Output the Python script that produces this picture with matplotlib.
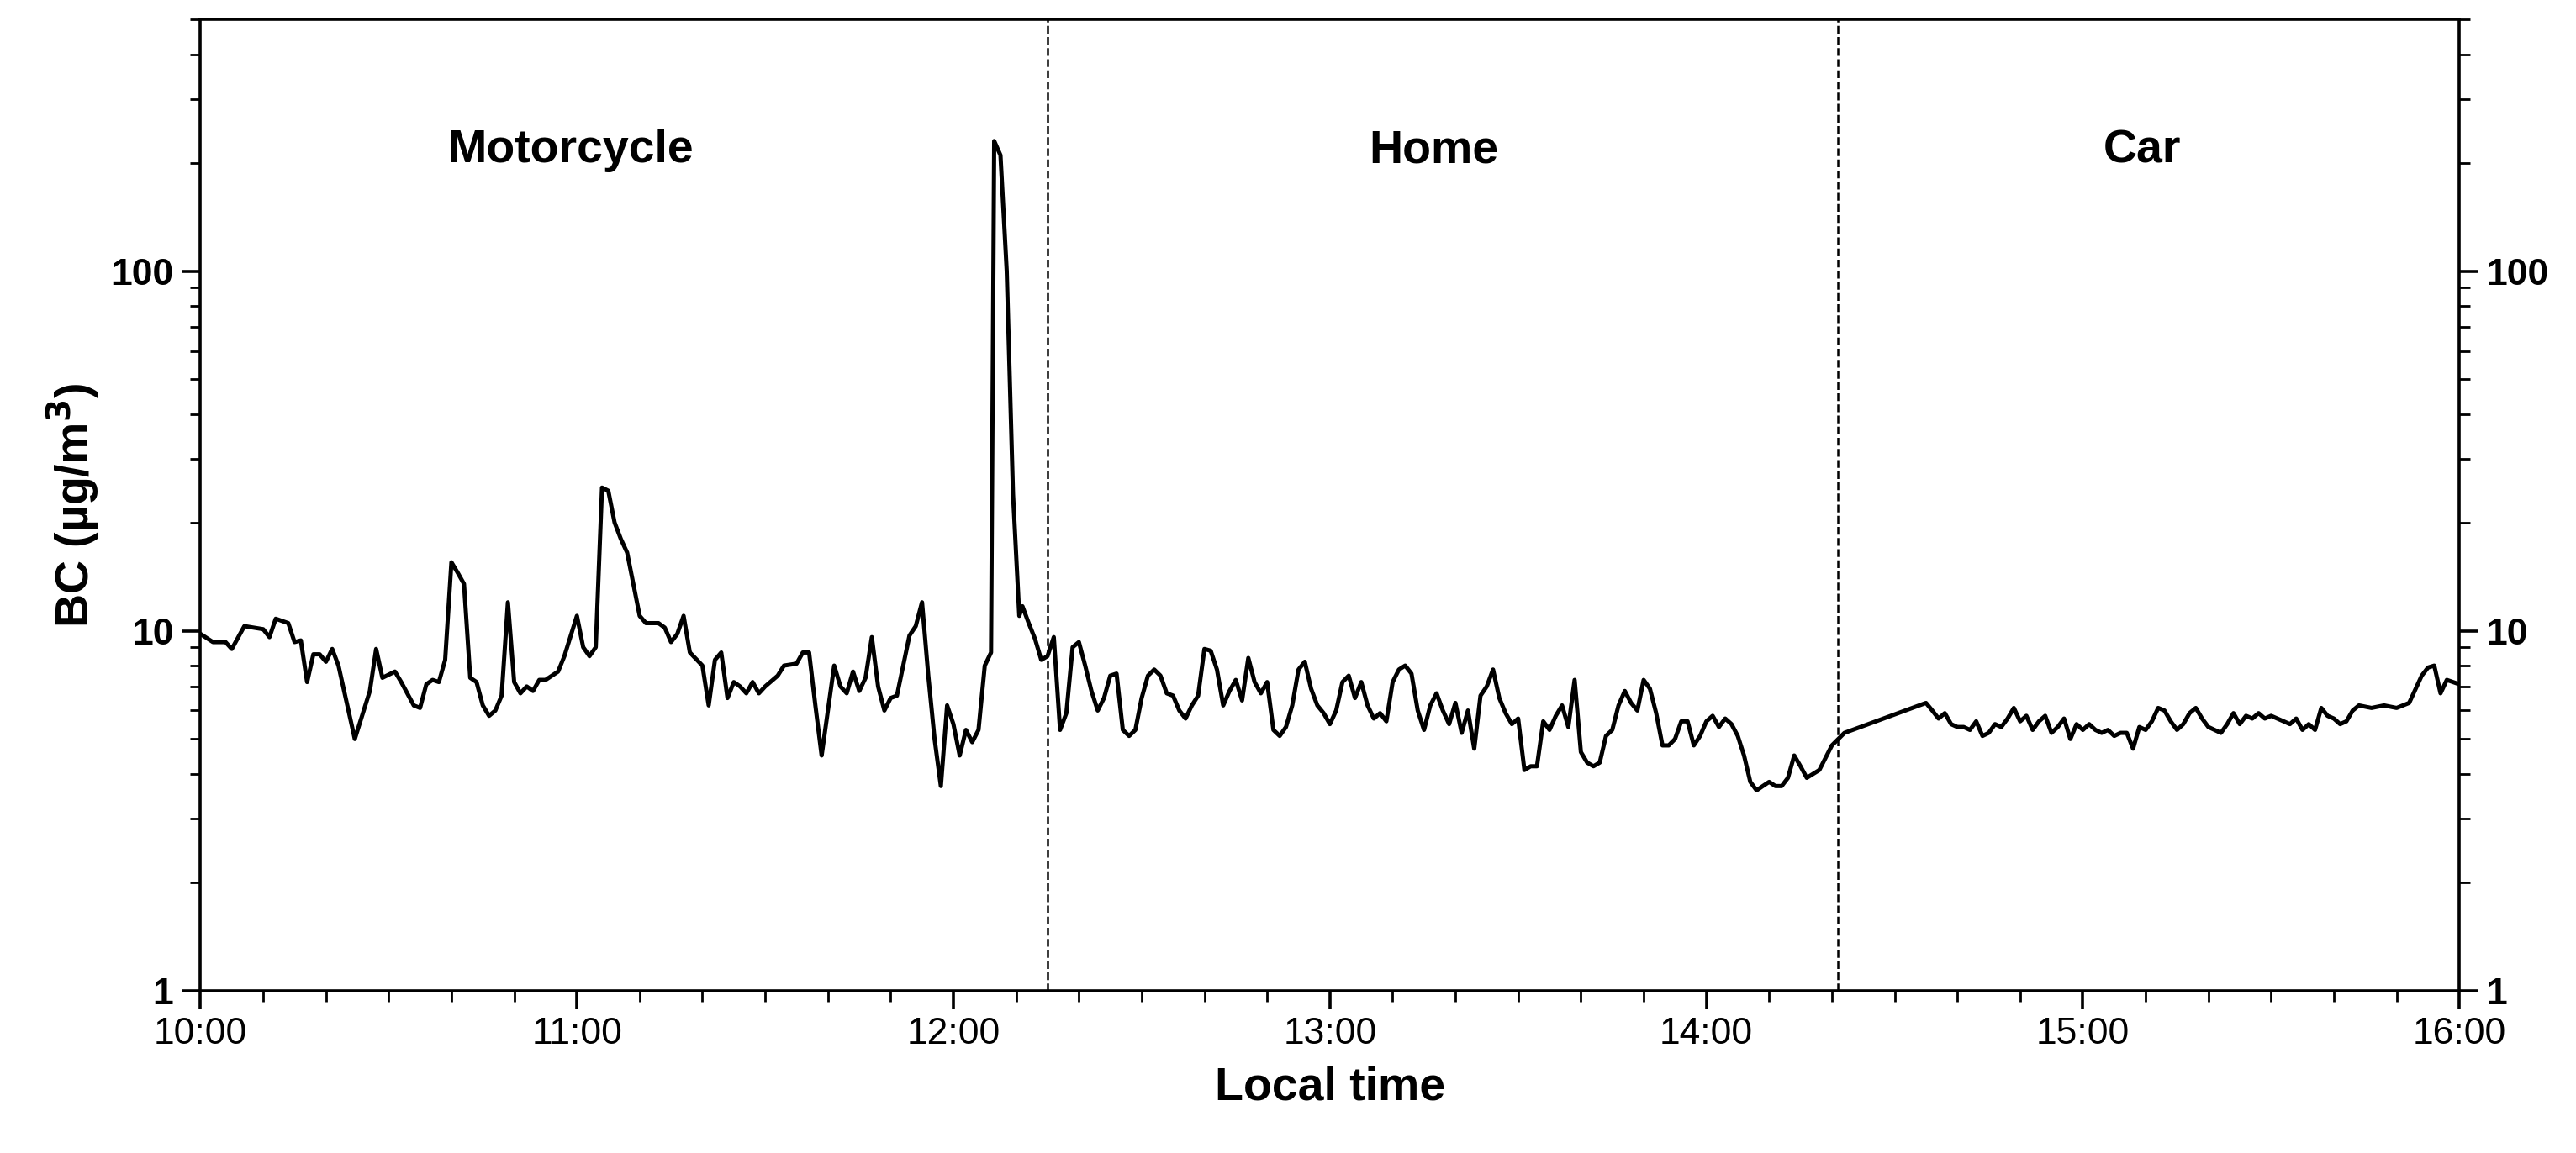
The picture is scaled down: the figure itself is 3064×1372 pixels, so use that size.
import matplotlib
matplotlib.use("Agg")
import matplotlib.pyplot as plt
from matplotlib.ticker import LogLocator, NullFormatter, FixedLocator, MultipleLocator
import numpy as np

plt.rcParams['font.family'] = ['Liberation Sans', 'DejaVu Sans']

minutes = [0,2,4,5,7,10,11,12,14,15,16,17,18,19,20,21,22,24.6,27,28,29,31,32,34,35,36,37,38,39,40,41,42,43,44,45,46,47,48,49,50,51,52,53,54,55,57,58,60,61,62,63,64,65,66,67,68,70,71,73,74,75,76,77,78,80,81,82,83,84,85,86,87,88,89,90,92,93,95,96,97,98,99,101,102,103,104,105,106,107,108,109,110,111,113,114,115,116,117,118,119,120,121,122,123,124,125,126,126.5,127.5,128.5,129.5,130.5,131,132,133,134,135,136,
 137,138,139,140,141,142,143,144,145,146,147,148,149,150,151,152,153,154,155,156,157,158,159,160,161,162,163,164,165,166,167,168,169,170,171,172,173,174,175,176,177,178,179,180,181,182,183,184,185,186,187,188,189,190,191,192,193,194,195,196,197,198,199,200,201,202,203,204,205,206,207,208,209,210,211,212,213,214,215,216,217,218,219,220,221,222,223,224,225,226,227,228,229,230,231,232,233,234,235,236,237,238,239,240,241,242,243,244,245,246,247,248,249,250,251,252,253,254,255,256,257,258,260,262,
 275,276,277,278,279,280,281,282,283,284,285,286,287,288,289,290,291,292,293,294,295,296,297,298,299,300,301,302,303,304,305,306,307,308,309,310,311,312,313,314,315,316,317,318,319,320,321,322,323,324,325,326,327,328,329,330,331,332,333,334,335,336,337,338,339,340,341,342,343,344,346,348,350,352,354,355,356,357,358,360]
bc = [9.8,9.3,9.3,8.9,10.3,10.1,9.6,10.8,10.5,9.3,9.4,7.2,8.6,8.6,8.2,8.9,8.0,5.0,6.8,8.9,7.4,7.7,7.2,6.2,6.1,7.1,7.3,7.2,8.3,15.5,14.5,13.5,7.4,7.2,6.2,5.8,6.0,6.6,12.0,7.2,6.7,7.0,6.8,7.3,7.3,7.7,8.5,11.0,9.0,8.5,9.0,25.0,24.5,20.0,18.0,16.5,11.0,10.5,10.5,10.2,9.3,9.8,11.0,8.7,8.0,6.2,8.3,8.7,6.5,7.2,7.0,6.7,7.2,6.7,7.0,7.5,8.0,8.1,8.7,8.7,6.2,4.5,8.0,7.0,6.7,7.7,6.8,7.4,9.6,7.0,6.0,6.5,6.6,9.7,10.3,12.0,7.5,5.0,3.7,6.2,5.5,4.5,5.3,4.9,5.3,8.0,8.7,230,210,100,24,11,11.7,10.5,9.5,8.3,8.5,9.6,
 5.3,5.9,9.0,9.3,8.0,6.8,6.0,6.5,7.5,7.6,5.3,5.1,5.3,6.5,7.5,7.8,7.5,6.7,6.6,6.0,5.7,6.2,6.6,8.9,8.8,7.8,6.2,6.8,7.3,6.4,8.4,7.2,6.7,7.2,5.3,5.1,5.4,6.2,7.8,8.2,6.9,6.2,5.9,5.5,6.0,7.2,7.5,6.5,7.2,6.2,5.7,5.9,5.6,7.2,7.8,8.0,7.6,6.0,5.3,6.2,6.7,6.0,5.5,6.3,5.2,6.0,4.7,6.6,7.0,7.8,6.5,5.9,5.5,5.7,4.1,4.2,4.2,5.6,5.3,5.8,6.2,5.4,7.3,4.6,4.3,4.2,4.3,5.1,5.3,6.2,6.8,6.3,6.0,7.3,6.9,5.9,4.8,4.8,5.0,5.6,5.6,4.8,5.1,5.6,5.8,5.4,5.7,5.5,5.1,4.5,3.8,3.6,3.7,3.8,3.7,3.7,3.9,4.5,4.2,3.9,4.0,4.1,4.8,5.2,
 6.3,6.0,5.7,5.9,5.5,5.4,5.4,5.3,5.6,5.1,5.2,5.5,5.4,5.7,6.1,5.6,5.8,5.3,5.6,5.8,5.2,5.4,5.7,5.0,5.5,5.3,5.5,5.3,5.2,5.3,5.1,5.2,5.2,4.7,5.4,5.3,5.6,6.1,6.0,5.6,5.3,5.5,5.9,6.1,5.7,5.4,5.3,5.2,5.5,5.9,5.5,5.8,5.7,5.9,5.7,5.8,5.7,5.6,5.5,5.7,5.3,5.5,5.3,6.1,5.8,5.7,5.5,5.6,6.0,6.2,6.1,6.2,6.1,6.3,7.5,7.9,8.0,6.7,7.3,7.1]

tick_labels = ["10:00","11:00","12:00","13:00","14:00","15:00","16:00"]
boundaries = [135, 261]
segment_names = ["Motorcycle", "Home", "Car"]
segment_x = [59, 196.5, 309.5]

fig = plt.figure(figsize=(15.32, 6.86), dpi=200)
ax = fig.add_axes([122/1568, 1-603/702, (1497-122)/1568, (603-12)/702])
ax.plot(minutes, bc, color='black', lw=1.8)
ax.set_yscale('log')
ax.set_ylim(1, 500)
ax.set_xlim(0, 360)
for b in boundaries:
    ax.axvline(b, color='black', ls='--', lw=0.9)
for n, x in zip(segment_names, segment_x):
    ax.text(x, 0.865, n, transform=ax.get_xaxis_transform(), ha='center', va='center',
            fontsize=20, fontweight='bold')
ax.xaxis.set_major_locator(FixedLocator(np.arange(0, 361, 60)))
ax.set_xticklabels(tick_labels)
ax.xaxis.set_minor_locator(MultipleLocator(10))
ax.yaxis.set_major_locator(FixedLocator([1, 10, 100]))
ax.set_yticklabels(["1", "10", "100"])
ax.yaxis.set_minor_locator(LogLocator(subs=np.arange(2, 10), numticks=20))
ax.yaxis.set_minor_formatter(NullFormatter())
ax.tick_params(axis='both', which='major', direction='out', length=8, width=1.3, labelsize=16)
ax.tick_params(axis='both', which='minor', direction='out', length=4.5, width=1)
ax.tick_params(axis='y', which='both', right=True, labelright=True)
for lab in ax.get_yticklabels():
    lab.set_fontweight('bold')
for s in ax.spines.values():
    s.set_linewidth(1.3)
ax.set_xlabel("Local time", fontsize=20, fontweight='bold', labelpad=6)
ax.set_ylabel("BC (µg/m$^\\mathbf{3}$)", fontsize=20, fontweight='bold')
fig.savefig("out.png", dpi=200)
